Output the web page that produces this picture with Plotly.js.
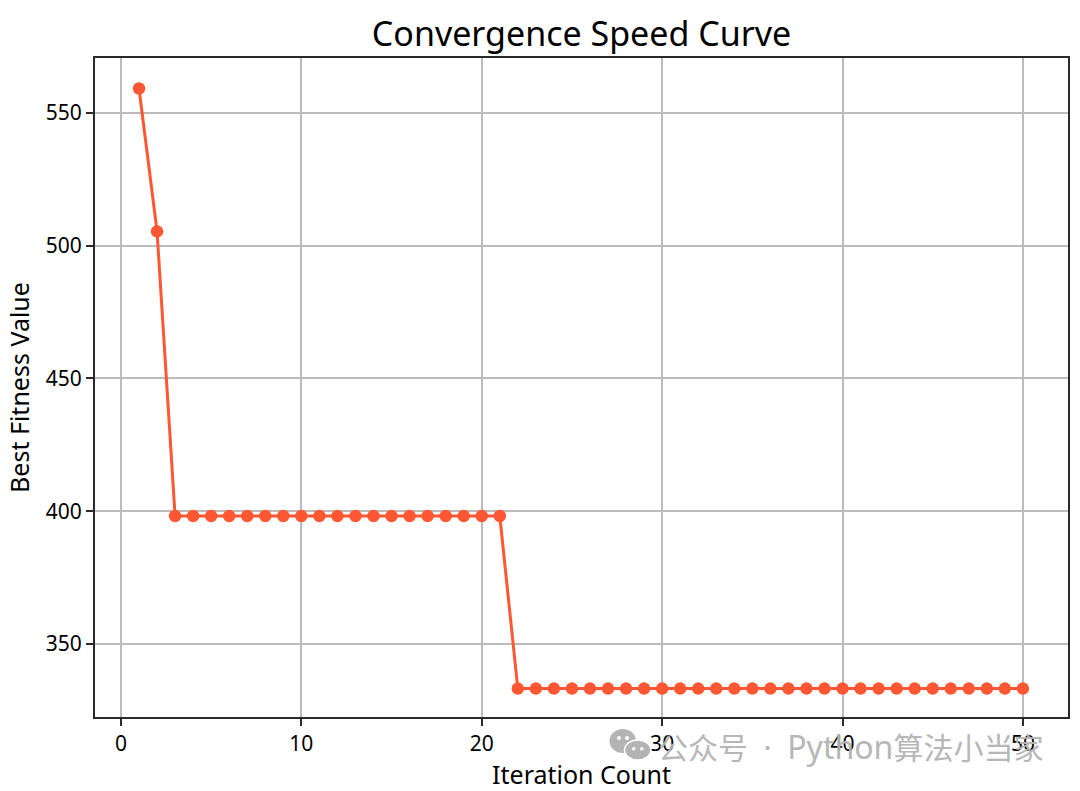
<!DOCTYPE html>
<html><head><meta charset="utf-8">
<script src="https://cdn.plot.ly/plotly-3.0.1.min.js"></script>
<style>html,body{margin:0;padding:0;background:#fff}</style></head>
<body><div id="chart" style="width:1080px;height:791px"></div>
<script>
const iterations = [1,2,3,4,5,6,7,8,9,10,11,12,13,14,15,16,17,18,19,20,21,22,23,24,25,26,27,28,29,30,31,32,33,34,35,36,37,38,39,40,41,42,43,44,45,46,47,48,49,50];
const bestFitness = [559.2,505.4,398.2,398.2,398.2,398.2,398.2,398.2,398.2,398.2,398.2,398.2,398.2,398.2,398.2,398.2,398.2,398.2,398.2,398.2,398.2,333.2,333.2,333.2,333.2,333.2,333.2,333.2,333.2,333.2,333.2,333.2,333.2,333.2,333.2,333.2,333.2,333.2,333.2,333.2,333.2,333.2,333.2,333.2,333.2,333.2,333.2,333.2,333.2,333.2];
const xTicks = [0,10,20,30,40,50];
const yTicks = [350,400,450,500,550];
const M = {l:95,r:12,t:58,b:74}, W=1080, H=791;
const px = x => (x-M.l)/(W-M.l-M.r);
const py = y => 1-(y-M.t)/(H-M.t-M.b);
const FONT = '"Noto Sans", "Open Sans", sans-serif';
const WM = '#b4b4b4';
function oval(x0,y0,x1,y1,fill,line){
  return {type:'circle',xref:'paper',yref:'paper',x0:px(x0),x1:px(x1),y0:py(y1),y1:py(y0),
    fillcolor:fill,line:{color:line||fill,width:line?1.5:0},layer:'above'};
}
const shapes = [
  oval(609.5,729,636,753,WM),
  oval(624.5,740,651,760,WM,'#ffffff'),
  oval(617,736,621,740,'#ffffff'),
  oval(625,736,629,740,'#ffffff'),
  oval(632,747,635.5,750.5,'#ffffff'),
  oval(640,747,643.5,750.5,'#ffffff'),
];
Plotly.newPlot('chart',[{
  x:iterations,y:bestFitness,type:'scatter',mode:'lines+markers',
  line:{color:'#ff5733',width:3},marker:{color:'#ff5733',size:12.5,line:{width:0}},
  hoverinfo:'skip',cliponaxis:false
}],{
  width:W,height:H,margin:M,paper_bgcolor:'#fff',plot_bgcolor:'#fff',showlegend:false,
  font:{family:FONT,color:'#000'},
  title:{text:'Convergence Speed Curve',font:{size:34,family:FONT,color:'#000'},x:(373+790)/2/W,xanchor:'center',y:1-34/H,yanchor:'middle'},
  xaxis:{range:[-1.44,52.5],tickmode:'array',tickvals:xTicks,ticktext:xTicks.map(String),
    showgrid:true,gridcolor:'#bcbcbc',gridwidth:2,zeroline:false,showline:true,mirror:true,linecolor:'#2a2a2a',linewidth:2,
    ticks:'outside',ticklen:7,tickwidth:2,tickcolor:'#2a2a2a',tickfont:{size:21,family:FONT,color:'#000'},
    title:{text:'Iteration Count',font:{size:25,family:FONT,color:'#000'},standoff:3}},
  yaxis:{range:[322.5,570.7],tickmode:'array',tickvals:yTicks,ticktext:yTicks.map(String),
    showgrid:true,gridcolor:'#bcbcbc',gridwidth:2,zeroline:false,showline:true,mirror:true,linecolor:'#2a2a2a',linewidth:2,
    ticks:'outside',ticklen:7,tickwidth:2,tickcolor:'#2a2a2a',tickfont:{size:21,family:FONT,color:'#000'},
    title:{text:'Best Fitness Value',font:{size:25,family:FONT,color:'#000'},standoff:9}},
  shapes:shapes,
  annotations:[{text:'公众号 \u00a0·\u00a0 <span style="font-size:32px">Python</span>算法小当家',xref:'paper',yref:'paper',x:px(1045),y:py(746),xanchor:'right',yanchor:'middle',
    showarrow:false,font:{size:30,family:'"Noto Sans", "Noto Sans CJK SC", sans-serif',color:WM},opacity:0.95}]
},{displayModeBar:false,staticPlot:true});
</script></body></html>
